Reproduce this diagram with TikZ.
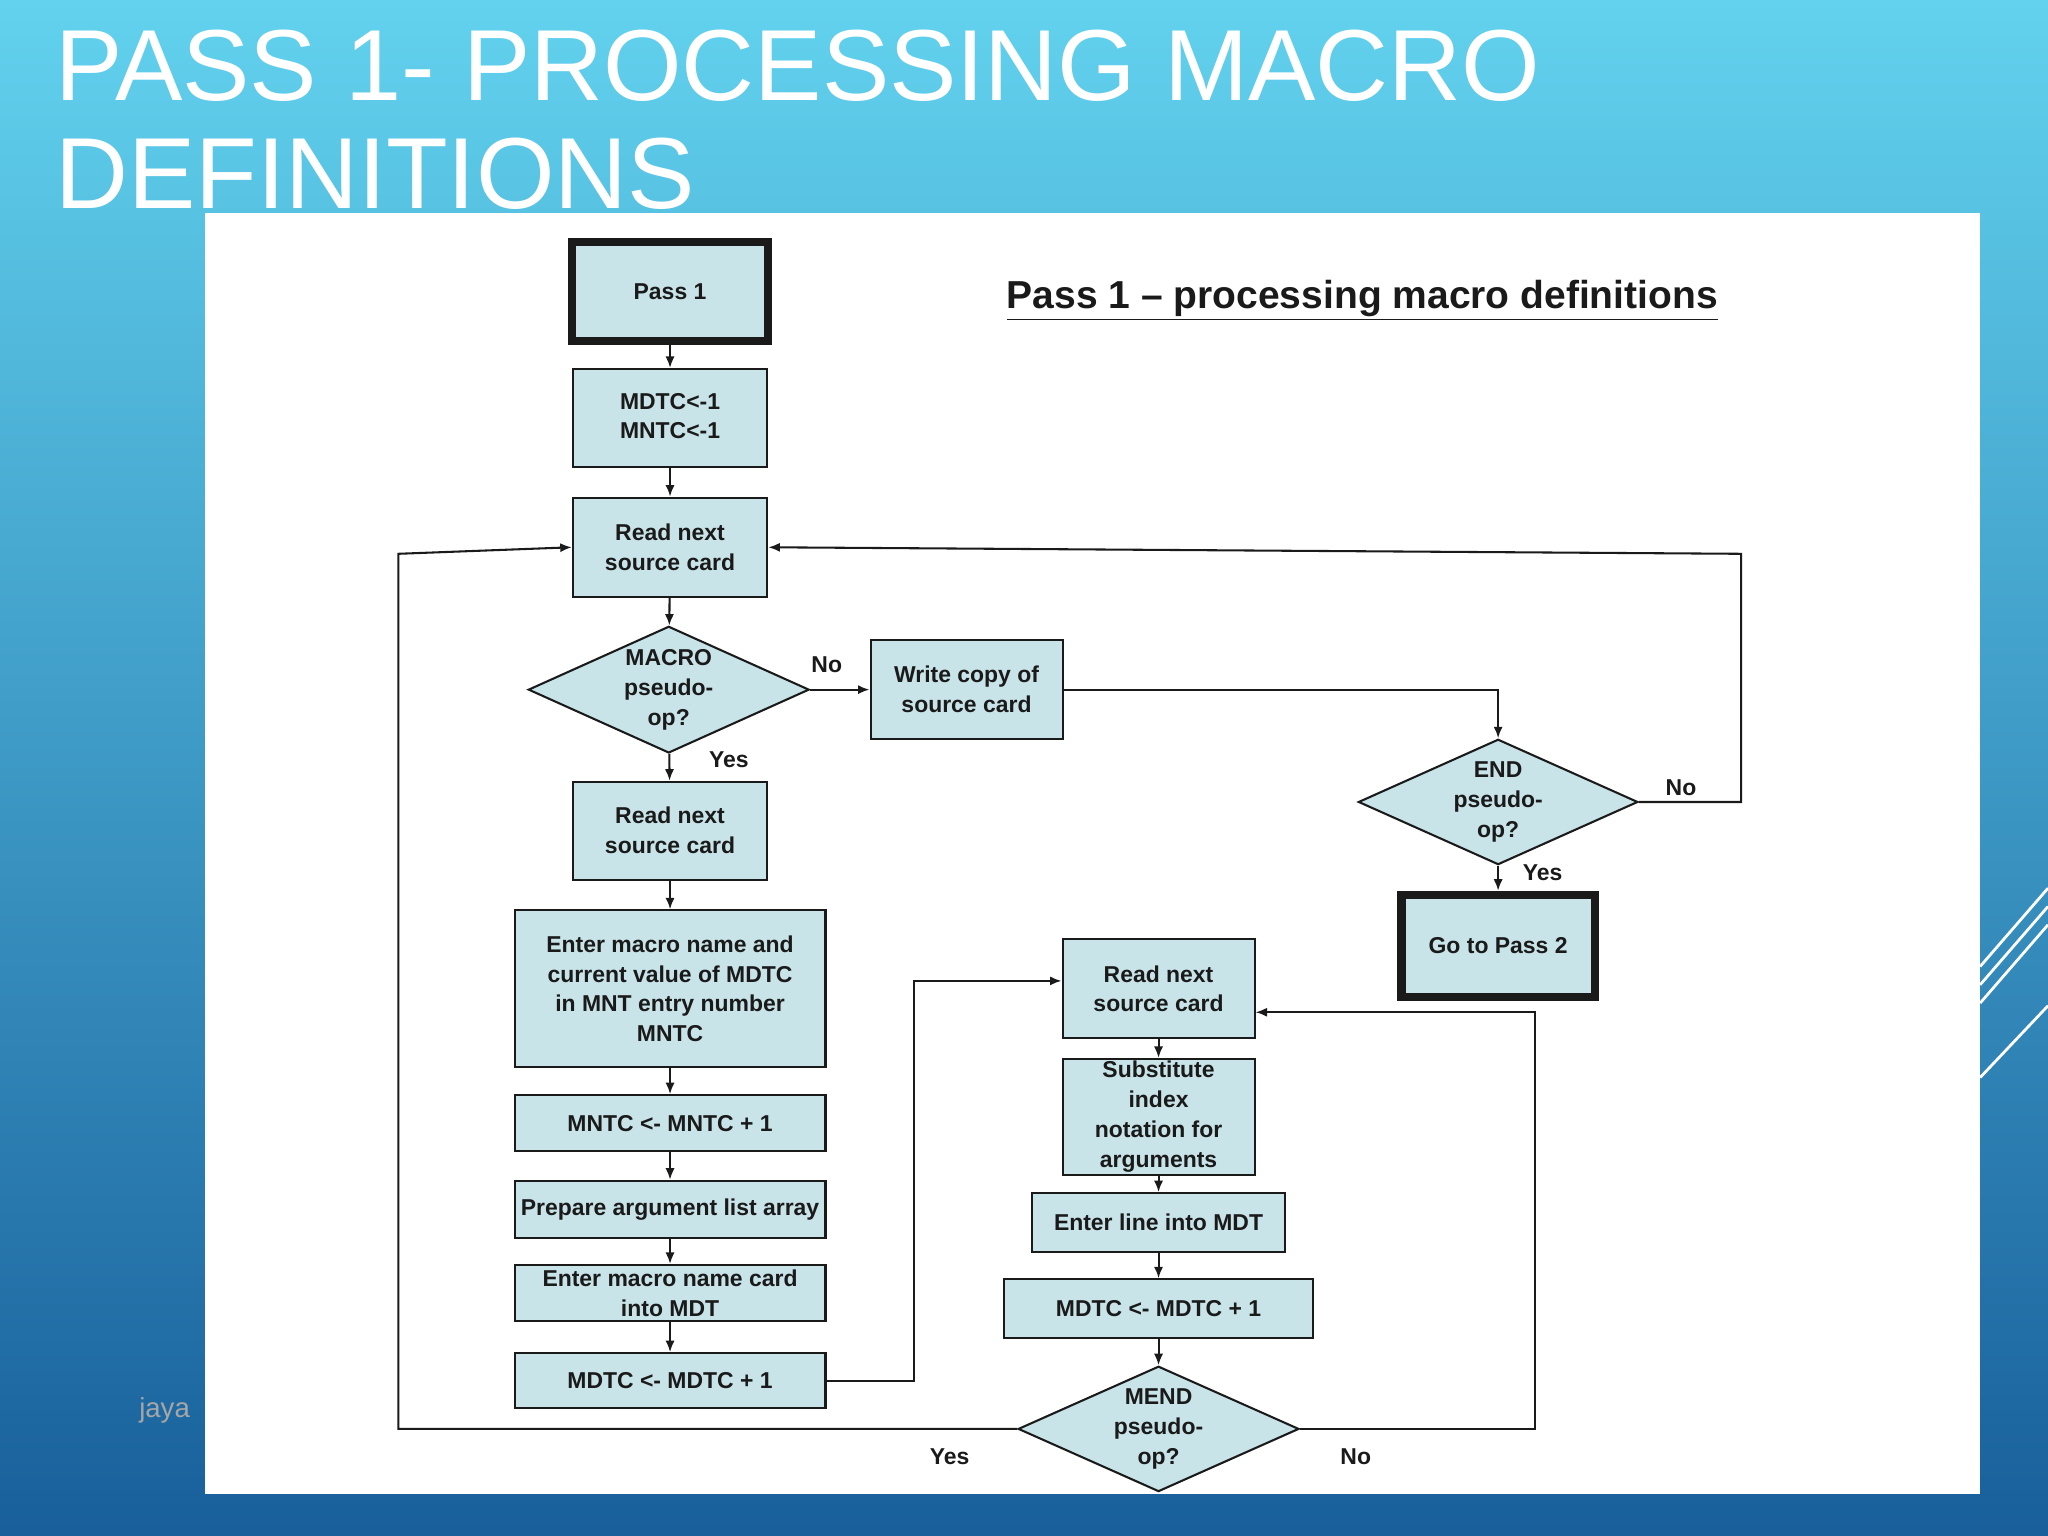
\documentclass[tikz,border=0pt]{standalone}
\usepackage{fontspec}
\setmainfont{Liberation Sans}
\usetikzlibrary{arrows.meta,shapes.geometric}
\definecolor{boxfill}{HTML}{C8E4E8}
\definecolor{ink}{HTML}{1A1A1A}
\tikzset{
  x=0.02cm,y=-0.02cm,
  bx/.style={draw=ink,line width=0.9pt,fill=boxfill,align=center,inner sep=1pt,font=\fontsize{10}{13}\selectfont\bfseries,text=ink},
  thk/.style={bx,line width=3.5pt},
  dm/.style={bx,diamond,aspect=2.2,inner sep=0pt},
  ar/.style={draw=ink,line width=0.9pt,-{Latex[length=5pt,width=4pt]}},
  lb/.style={font=\fontsize{10}{12}\selectfont\bfseries,text=ink}
}
\newcommand{\bxs}[5]{\node[#1,minimum width=#3*0.02cm,minimum height=#4*0.02cm] (#2) at #5}
\begin{document}
\begin{tikzpicture}
\useasboundingbox (0,0) rectangle (1568,1176);
\shade[top color={rgb,255:red,98;green,210;blue,238},bottom color={rgb,255:red,24;green,95;blue,155}] (0,0) rectangle (1568,1176);
\fill[white] (157,163) rectangle (1516,1144);
\node[anchor=base west,text=white,font=\fontsize{44}{50}\selectfont,inner sep=0] (t1) at (42,77) {PASS 1- PROCESSING MACRO};
\node[anchor=base west,text=white,font=\fontsize{44}{50}\selectfont,inner sep=0] (t2) at (42,160) {DEFINITIONS};
\foreach \d in {0,14,28}{\draw[white,line width=1.2pt] (1516,740+\d) -- (1568,680+\d);}
\draw[white,line width=1.2pt] (1516,825) -- (1568,770);
\node[text=white,font=\fontsize{38}{40}\selectfont] (pg) at (1430,1030) {20};
\node[text=white,font=\fontsize{12}{14}\selectfont] (dt) at (1410,1080) {11/15/2016};
\node[text=gray!70,font=\fontsize{12}{14}\selectfont] (ja) at (126,1080) {jaya};
\node[font=\fontsize{17}{20}\selectfont\bfseries,text=ink] (ttl) at (1043,230) {\underline{Pass 1 -- processing macro definitions}};

\bxs{thk}{p1}{150}{76}{(513,223)} {Pass 1};
\bxs{bx}{m1}{149}{75}{(513,320)} {\begin{tabular}{@{}l@{}}MDTC<-1\\MNTC<-1\end{tabular}};
\bxs{bx}{r1}{149}{76}{(513,419)} {Read next\\source card};
\bxs{dm}{d1}{215}{97}{(512,528)} {MACRO\\pseudo-\\op?};
\bxs{bx}{w1}{147}{76}{(740,528)} {Write copy of\\source card};
\bxs{bx}{r2}{149}{75}{(513,636)} {Read next\\source card};
\bxs{bx}{e1}{238}{120}{(513,757)} {Enter macro name and\\current value of MDTC\\in MNT entry number\\MNTC};
\bxs{bx}{mn}{238}{43}{(513,860)} {MNTC <- MNTC + 1};
\bxs{bx}{pr}{238}{44}{(513,926)} {Prepare argument list array};
\bxs{bx}{en}{238}{43}{(513,990)} {Enter macro name card\\into MDT};
\bxs{bx}{ml}{238}{42}{(513,1057)} {MDTC <- MDTC + 1};
\bxs{bx}{r3}{147}{76}{(887,757)} {Read next\\source card};
\bxs{bx}{sb}{147}{76}{(887,855)} {Substitute\\index\\notation for\\arguments};
\bxs{bx}{el}{194}{45}{(887,936)} {Enter line into MDT};
\bxs{bx}{mr}{237}{45}{(887,1002)} {MDTC <- MDTC + 1};
\bxs{dm}{d3}{215}{96}{(887,1094)} {MEND\\pseudo-\\op?};
\bxs{dm}{d2}{214}{96}{(1147,614)} {END\\pseudo-\\op?};
\bxs{thk}{g2}{148}{78}{(1147,724)} {Go to Pass 2};

\draw[ar] (p1) -- (m1);
\draw[ar] (m1) -- (r1);
\draw[ar] (r1) -- (d1);
\draw[ar] (d1) -- (w1);
\node[lb] (lno1) at (633,509) {No};
\draw[ar] (w1.east) -| (d2.north);
\draw[ar] (d2.east) -- (1333,614) -- (1333,424) -- (r1.east);
\node[lb] (lno2) at (1287,603) {No};
\draw[ar] (d2) -- (g2);
\node[lb] (ly2) at (1181,668) {Yes};
\draw[ar] (d1) -- (r2);
\node[lb] (ly1) at (558,582) {Yes};
\draw[ar] (r2) -- (e1);
\draw[ar] (e1) -- (mn);
\draw[ar] (mn) -- (pr);
\draw[ar] (pr) -- (en);
\draw[ar] (en) -- (ml);
\draw[ar] (ml.east) -- (700,1057) -- (700,751) -- (r3.west|-0,751);
\draw[ar] (r3) -- (sb);
\draw[ar] (sb) -- (el);
\draw[ar] (el) -- (mr);
\draw[ar] (mr) -- (d3);
\draw[ar] (d3.east) -- (1175,1094) -- (1175,775) -- (r3.east|-0,775);
\node[lb] (lno3) at (1038,1115) {No};
\draw[ar] (d3.west) -- (305,1094) -- (305,424) -- (r1.west);
\node[lb] (ly3) at (727,1115) {Yes};
\end{tikzpicture}
\end{document}
